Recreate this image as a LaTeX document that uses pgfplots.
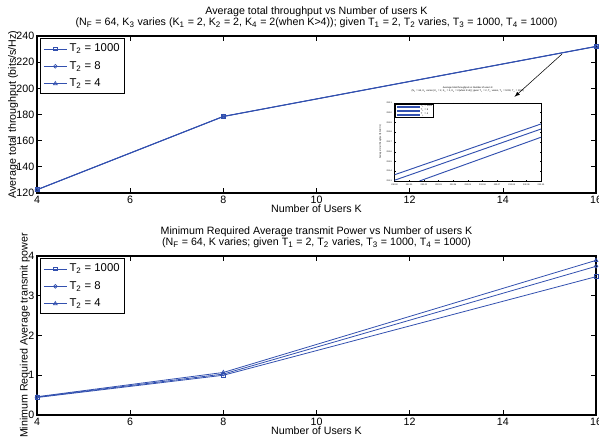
\documentclass[border=0pt]{standalone}
\usepackage{fontspec}
\setmainfont{Liberation Sans}
\usepackage{pgfplots}
\pgfplotsset{compat=1.18}
\definecolor{mblue}{RGB}{50,80,175}
\begin{document}
\begin{tikzpicture}
\pgfplotsset{
  mstyle/.style={
    scale only axis, width=419.25pt,
    xmin=4, xmax=16, xtick={4,6,...,16},
    tick align=inside, major tick length=3.5pt,
    axis line style={line width=0.9pt, black},
    every tick/.style={black, line width=0.5pt},
    font=\fontsize{8}{9}\selectfont,
    tick label style={font=\fontsize{8}{9}\selectfont},
    /pgf/number format/assume math mode=true,
    title style={align=center, font=\fontsize{8}{8.5}\selectfont, yshift=-3.5pt},
    xlabel style={yshift=6pt},
    ylabel style={yshift=-8pt},
    xticklabel style={yshift=1.5pt},
    yticklabel style={xshift=1.5pt},
    legend style={at={(0.006,0.985)}, anchor=north west, draw=black, line width=0.8pt,
      font=\fontsize{8.5}{9}\selectfont, inner sep=2pt, row sep=2pt,
      nodes={inner sep=1.8pt}},
    legend cell align=left,
  },
}
% bottom axis
\begin{axis}[mstyle, height=119.25pt, ymin=0, ymax=4, ytick={0,1,2,3,4},
  xlabel={Number of Users K},
  ylabel={Minimum Required Average transmit power},
  title={Minimum Required Average transmit Power vs Number of users K\\(N\textsubscript{F} = 64, K varies; given T\textsubscript{1} = 2, T\textsubscript{2} varies, T\textsubscript{3} = 1000, T\textsubscript{4} = 1000)}]
\addplot[mblue, line width=0.6pt, mark=square, mark size=1.4pt, mark options={solid, line width=0.5pt}] coordinates {(4,0.44) (8,1.00) (16,3.48)};
\addplot[mblue, line width=0.6pt, mark=o, mark size=1.4pt, mark options={solid, line width=0.5pt}] coordinates {(4,0.45) (8,1.03) (16,3.74)};
\addplot[mblue, line width=0.6pt, mark=triangle, mark size=1.6pt, mark options={solid, line width=0.5pt}] coordinates {(4,0.46) (8,1.07) (16,3.89)};
\legend{T\textsubscript{2} = 1000, T\textsubscript{2} = 8, T\textsubscript{2} = 4}
\end{axis}
% top axis
\begin{axis}[mstyle, height=117.75pt, at={(0,166.5pt)}, ymin=120, ymax=240, ytick={120,140,...,240},
  xlabel={Number of Users K},
  ylabel={Average total throughput (bits/s/Hz)},
  title={Average total throughput vs Number of users K\\(N\textsubscript{F} = 64, K\textsubscript{3} varies (K\textsubscript{1} = 2, K\textsubscript{2} = 2, K\textsubscript{4} = 2(when K>4)); given T\textsubscript{1} = 2, T\textsubscript{2} varies, T\textsubscript{3} = 1000, T\textsubscript{4} = 1000)}]
\addplot[mblue, line width=0.6pt, mark=square, mark size=1.4pt, mark options={solid, line width=0.5pt}] coordinates {(4,122.6) (8,178.6) (16,232.1)};
\addplot[mblue, line width=0.6pt, mark=o, mark size=1.4pt, mark options={solid, line width=0.5pt}] coordinates {(4,122.5) (8,178.5) (16,232.0)};
\addplot[mblue, line width=0.6pt, mark=triangle, mark size=1.6pt, mark options={solid, line width=0.5pt}] coordinates {(4,122.4) (8,178.4) (16,231.9)};
\legend{T\textsubscript{2} = 1000, T\textsubscript{2} = 8, T\textsubscript{2} = 4}
\draw[-latex, line width=0.4pt, black] (axis cs:15.27,226.2) -- (axis cs:14.25,193.5);
\end{axis}
% inset
\begin{axis}[at={(268.2pt,175.5pt)}, scale only axis, width=109.8pt, height=58.6pt,
  axis background/.style={fill=white},
  xmin=0, xmax=1, ymin=0, ymax=1,
  xtick={0,0.1,...,1}, ytick={0,0.125,...,1},
  xticklabels={232.00,232.01,232.02,232.03,232.04,232.05,232.06,232.07,232.08,232.09,232.10},
  yticklabels={231.3,231.4,231.5,231.6,231.7,231.8,231.9,232.0,232.1},
  tick align=inside, major tick length=1pt,
  axis line style={line width=0.5pt, black},
  every tick/.style={black, line width=0.2pt},
  tick label style={font=\fontsize{1.6}{1.8}\selectfont},
  xticklabel style={yshift=1.5pt}, yticklabel style={xshift=1.5pt},
  label style={font=\fontsize{1.6}{1.8}\selectfont},
  ylabel={Average total throughput (bits/s/Hz)}, ylabel style={yshift=-3pt},
  title style={align=center, font=\fontsize{1.8}{2}\selectfont, yshift=-2pt},
  title={Average total throughput vs Number of users K\\(N\textsubscript{F} = 64, K\textsubscript{3} varies (K\textsubscript{1} = 2, K\textsubscript{2} = 2, K\textsubscript{4} = 2(when K>4)); given T\textsubscript{1} = 2, T\textsubscript{2} varies, T\textsubscript{3} = 1000, T\textsubscript{4} = 1000)},
  legend style={at={(0.005,0.99)}, anchor=north west, draw=black, line width=0.5pt,
    font=\fontsize{1.8}{2}\selectfont, inner sep=0.3pt, row sep=-0.5pt, nodes={inner sep=0.4pt}},
  legend cell align=left,
  legend image post style={line width=1.2pt},
]
\addplot[mblue, line width=0.7pt] coordinates {(0,0.08) (1,0.73)};
\addplot[mblue, line width=0.7pt] coordinates {(0,0.01) (1,0.665)};
\addplot[mblue, line width=0.7pt] coordinates {(0.17,0) (1,0.56)};
\legend{T\textsubscript{2} = 1000, T\textsubscript{2} = 8, T\textsubscript{2} = 4}
\end{axis}
\pgfresetboundingbox
\useasboundingbox (-27.75pt,-23.25pt) rectangle (421.5pt,311.25pt);
\end{tikzpicture}
\end{document}
